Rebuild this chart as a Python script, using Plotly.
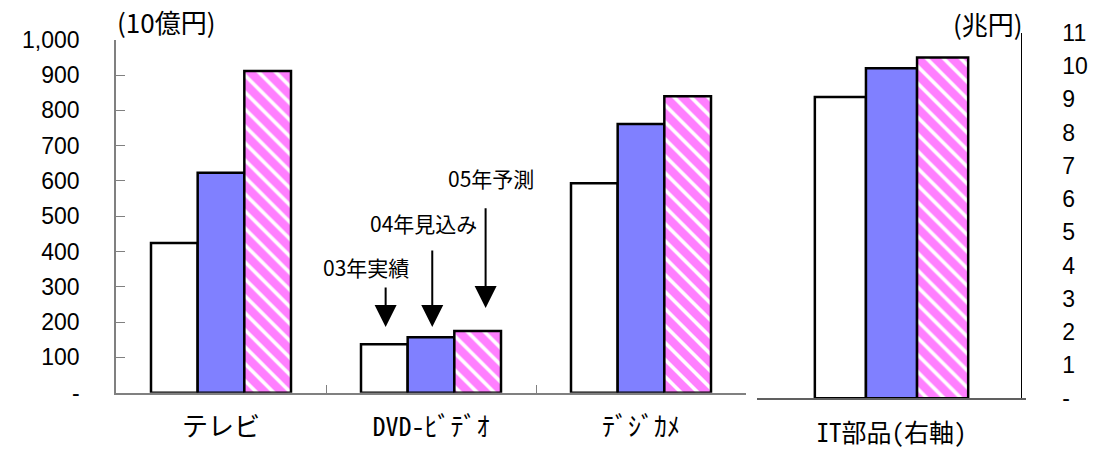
import plotly.graph_objects as go

# Market size by product: 2003 actual, 2004 estimate, 2005 forecast
left_categories = ["テレビ", "DVD-ﾋﾞﾃﾞｵ", "ﾃﾞｼﾞｶﾒ"]   # 10億円
left_2003 = [424, 137, 593]
left_2004 = [623, 157, 761]
left_2005 = [911, 175, 840]

right_categories = ["IT部品(右軸)"]                    # 兆円
right_2003 = [9.07]
right_2004 = [9.94]
right_2005 = [10.26]

series_names = ["03年実績", "04年見込み", "05年予測"]

left_ticks = [0, 100, 200, 300, 400, 500, 600, 700, 800, 900, 1000]
left_ticktext = ["-", "100", "200", "300", "400", "500", "600", "700", "800", "900", "1,000"]
right_ticks = list(range(0, 12))
right_ticktext = ["-"] + [str(v) for v in range(1, 12)]

W, H = 1093, 452
NUM_FONT = "Liberation Sans, Arial, sans-serif"
JP_FONT = "Noto Sans CJK JP, sans-serif"
CAT_FONT = "Noto Sans Mono CJK JP, Noto Sans CJK JP, sans-serif"

white_style = dict(color="white", line=dict(color="black", width=2.5))
blue_style = dict(color="#8080FF", line=dict(color="black", width=2.5))
hatch_style = dict(color="white", line=dict(color="black", width=2.5),
                   pattern=dict(shape="\\", fgcolor="#FF00FF", bgcolor="white",
                                size=12, solidity=0.7))
styles = [white_style, blue_style, hatch_style]

fig = go.Figure()

for name, vals, st in zip(series_names, [left_2003, left_2004, left_2005], styles):
    fig.add_trace(go.Bar(x=left_categories, y=vals, name=name, marker=st,
                         xaxis="x", yaxis="y", showlegend=False))

# right panel bars placed explicitly within the single category
bw = 0.19
offsets = [-1.5 * bw, -0.5 * bw, 0.5 * bw]
for name, vals, st, off in zip(series_names, [right_2003, right_2004, right_2005], styles, offsets):
    fig.add_trace(go.Bar(x=right_categories, y=vals, name=name, marker=st,
                         width=bw, offset=off,
                         xaxis="x2", yaxis="y2", showlegend=False))

fig.update_layout(
    width=W, height=H,
    margin=dict(l=0, r=0, t=0, b=0, autoexpand=False),
    paper_bgcolor="white", plot_bgcolor="rgba(0,0,0,0)",
    barmode="group", bargap=1/3, bargroupgap=0,
    xaxis=dict(domain=[116 / W, 746 / W], anchor="y", automargin=False,
               showline=True, linecolor="#808080", linewidth=1.5,
               ticks="inside", tickson="boundaries", ticklen=8, tickcolor="#808080",
               showgrid=False, zeroline=False,
               tickfont=dict(family=CAT_FONT, size=26, color="black"),
               ticklabelstandoff=10),
    yaxis=dict(domain=[(H - 392.7) / H, (H - 39.7) / H], anchor="x", automargin=False,
               range=[0, 1000], tickvals=left_ticks, ticktext=left_ticktext,
               showline=True, linecolor="#808080", linewidth=1.5,
               ticks="inside", ticklen=9, tickcolor="#808080",
               showgrid=False, zeroline=False,
               tickfont=dict(family=NUM_FONT, size=23, color="black"),
               ticklabelstandoff=30),
    xaxis2=dict(domain=[757 / W, 1026 / W], anchor="y2", automargin=False,
                showline=True, linecolor="#606060", linewidth=1.5,
                ticks="inside", tickson="boundaries", ticklen=8, tickcolor="#808080",
                showgrid=False, zeroline=False,
                tickfont=dict(family=CAT_FONT, size=25, color="black"),
                ticklabelstandoff=12),
    yaxis2=dict(domain=[(H - 398.3) / H, (H - 33) / H], anchor="free", automargin=False,
                position=1020.7 / W, side="right",
                range=[0, 11], tickvals=right_ticks, ticktext=right_ticktext,
                showline=True, linecolor="black", linewidth=1,
                ticks="", showgrid=False, zeroline=False,
                tickfont=dict(family=NUM_FONT, size=23, color="black"),
                ticklabelstandoff=36),
)

# unit labels
fig.add_annotation(text="(10億円)", xref="paper", yref="paper",
                   x=166 / W, y=(H - 21) / H, xanchor="center", yanchor="middle",
                   showarrow=False, font=dict(family=JP_FONT, size=26, color="black"))
fig.add_annotation(text="(兆円)", xref="paper", yref="paper",
                   x=988 / W, y=(H - 24) / H, xanchor="center", yanchor="middle",
                   showarrow=False, font=dict(family=JP_FONT, size=26, color="black"))

# series call-outs pointing at the DVD bars
callouts = [
    # label, text x, text y, arrow x, arrow tip, arrow tail
    ("03年実績", 0.690, 357, 0.784, 186, 302),
    ("04年見込み", 0.962, 482, 1.006, 186, 407),
    ("05年予測", 1.288, 608, 1.260, 240, 527),
]
for label, tx, ty, axx, tip, tail in callouts:
    fig.add_annotation(text=label, xref="x", yref="y", x=tx, y=ty,
                       xanchor="center", yanchor="middle", showarrow=False,
                       font=dict(family=JP_FONT, size=21, color="black"))
    fig.add_annotation(text="", xref="x", yref="y", x=axx, y=tip,
                       axref="x", ayref="y", ax=axx, ay=tail,
                       showarrow=True, arrowhead=2, arrowsize=2.2, arrowwidth=2,
                       arrowcolor="black", standoff=0)

fig.write_html("out.html")
